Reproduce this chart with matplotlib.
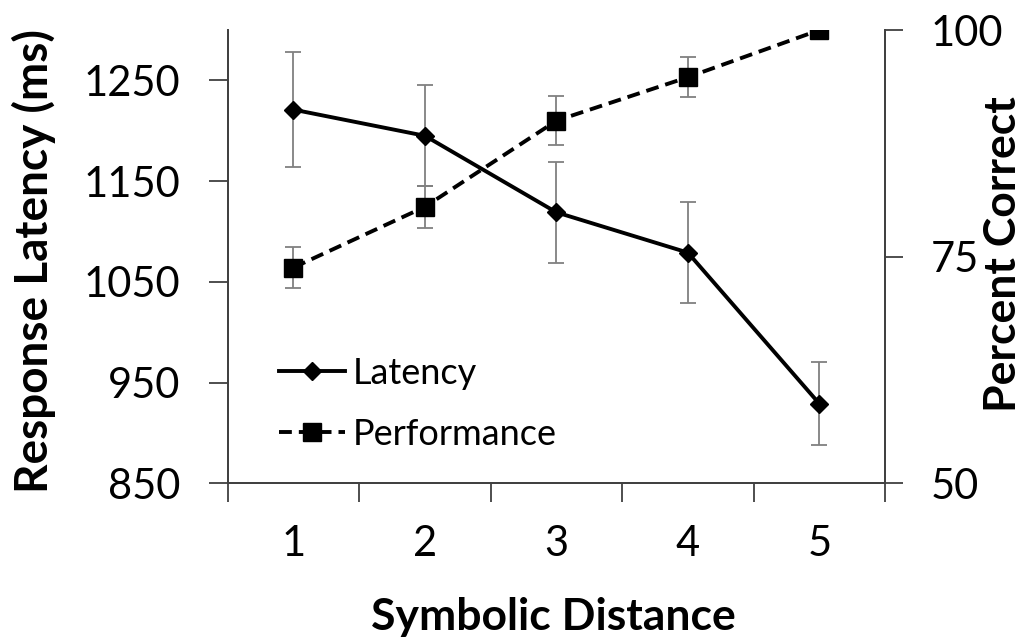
"""Symbolic distance effect: response latency and percent correct."""

import matplotlib

matplotlib.use("Agg")
import matplotlib.pyplot as plt
from matplotlib.lines import Line2D

plt.rcParams["font.family"] = ["Lato", "DejaVu Sans"]

distance = [1, 2, 3, 4, 5]
latency_ms = [1221, 1195, 1119, 1079, 929]
latency_err = [57, 50, 50, 50, 41]
percent_correct = [73.8, 80.5, 90.0, 94.8, 100.0]
percent_err = [2.3, 2.3, 2.7, 2.2, 0.0]

LINE_C = "black"
ERR_C = "#808080"
SPINE_C = "#404040"
DASH = (0, (3.3, 1.8))


def main() -> None:
    fig = plt.figure(figsize=(10.26, 6.4), dpi=100)
    ax = fig.add_axes([0.222, 0.245, 0.6406, 0.708])
    ax2 = ax.twinx()

    # Latency on the left axis.
    ax.errorbar(distance, latency_ms, yerr=latency_err, fmt="none",
                ecolor=ERR_C, elinewidth=1.3, capsize=6, capthick=1.3, zorder=2)
    ax.plot(distance, latency_ms, color=LINE_C, lw=2.8, marker="D", ms=9,
            zorder=3)

    # Performance on the right axis.
    ax2.errorbar(distance, percent_correct, yerr=percent_err, fmt="none",
                 ecolor=ERR_C, elinewidth=1.3, capsize=6, capthick=1.3, zorder=2)
    ax2.plot(distance, percent_correct, color=LINE_C, lw=2.8, ls=DASH,
             marker="s", ms=13, zorder=3)

    ax.set_xlim(0.5, 5.5)
    ax.set_ylim(850, 1300)
    ax2.set_ylim(50, 100)

    ax.set_yticks([850, 950, 1050, 1150, 1250])
    ax2.set_yticks([50, 75, 100])
    ax.set_xticks(distance)
    ax.set_xticks([d - 0.5 for d in distance] + [distance[-1] + 0.5], minor=True)

    ax.tick_params(axis="x", which="major", length=0, pad=30, labelsize=30)
    ax.tick_params(axis="x", which="minor", length=14, width=1.3, color=SPINE_C)
    ax.tick_params(axis="y", length=14, width=1.3, color=SPINE_C, pad=20,
                   labelsize=30)
    ax2.tick_params(axis="y", length=13, width=1.3, color=SPINE_C, pad=20,
                    labelsize=30)

    for a in (ax, ax2):
        a.spines["top"].set_visible(False)
        for side in ("left", "right", "bottom"):
            a.spines[side].set_color(SPINE_C)
            a.spines[side].set_linewidth(1.3)

    ax.text(-0.295, 0.49, "Response Latency (ms)", transform=ax.transAxes,
            rotation=90, ha="center", va="center", fontsize=33,
            fontweight="bold")
    ax.text(0.495, -0.324, "Symbolic Distance", transform=ax.transAxes,
            ha="center", va="baseline", fontsize=32, fontweight="bold")
    ax.text(1.18, 0.506, "Percent Correct", transform=ax.transAxes,
            rotation=90, ha="center", va="center", fontsize=32,
            fontweight="bold")

    handles = [
        Line2D([], [], color=LINE_C, lw=2.8, marker="D", ms=9),
        Line2D([], [], color=LINE_C, lw=2.8, ls=DASH, marker="s", ms=13),
    ]
    ax2.legend(handles, ["Latency", "Performance"], loc="center left",
               bbox_to_anchor=(0.05, 0.175), frameon=False, fontsize=26,
               borderpad=0, handlelength=1.83, handletextpad=0.22,
               labelspacing=0.78)

    fig.savefig("out.png", dpi=100)
    plt.close(fig)


if __name__ == "__main__":
    main()
